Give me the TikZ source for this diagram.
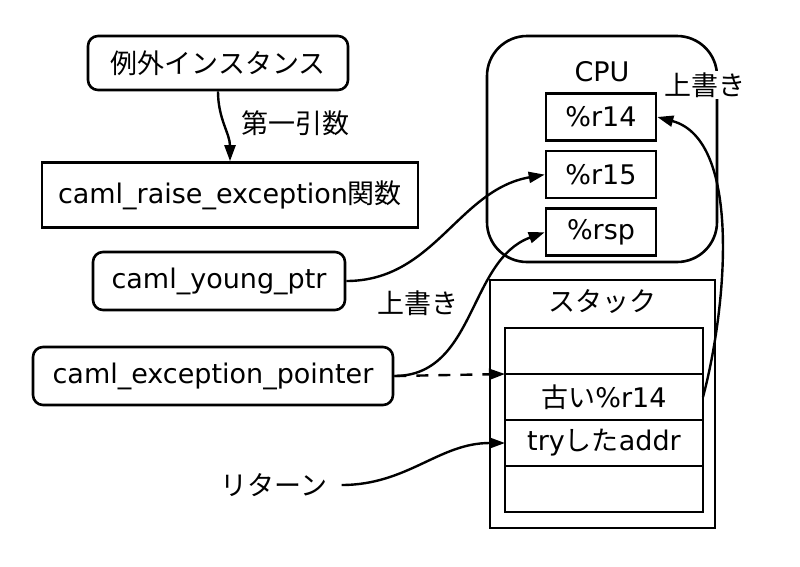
\documentclass[tikz,border=0pt]{standalone}
\usepackage{fontspec}
\setmainfont{DejaVu Sans}
\newfontfamily\jp{Noto Sans CJK JP}
\usetikzlibrary{positioning,arrows.meta}
\tikzset{
  rbox/.style={draw, line width=2.6pt, rounded corners=10pt, inner sep=0pt},
  sbox/.style={draw, line width=2.6pt, inner sep=0pt},
  reg/.style={sbox, minimum width=110pt, minimum height=47pt},
  slot/.style={sbox, minimum width=198pt, minimum height=46pt, outer sep=0pt},
  link/.style={line width=2.4pt, -{Triangle[length=16pt,width=11pt]}},
}
\begin{document}
\begin{tikzpicture}[x=1pt, y=-1pt, font=\fontsize{27}{32}\selectfont]
  \useasboundingbox[fill=white] (0,0) rectangle (800,566);

  % left side
  \node[rbox, minimum width=260pt, minimum height=54pt] (inst) at (218,63) {\jp 例外インスタンス};
  \node (arg) at (295,123) {\jp 第一引数};
  \node[sbox, minimum width=376pt, minimum height=65pt] (raise) at (230,195) {caml\_raise\_exception{\jp 関数}};
  \node[rbox, minimum width=252pt, minimum height=58pt] (young) at (219,281) {caml\_young\_ptr};
  \node (over2) at (418,303) {\jp 上書き};
  \node[rbox, minimum width=360pt, minimum height=58pt] (expt) at (213,376) {caml\_exception\_pointer};
  \node[inner xsep=14pt] (ret) at (274,485) {\jp リターン};

  % CPU
  \node[draw, line width=2.6pt, rounded corners=40pt, minimum width=230pt, minimum height=226pt] (cpu) at (602,149) {};
  \node (cpulbl) at (602,72) {CPU};
  \node[reg] (r14) at (601,117) {\%r14};
  \node[reg, below=8pt of r14] (r15) {\%r15};
  \node[reg, below=8pt of r15] (rsp) {\%rsp};
  \node[fill=white, inner sep=2pt] (over1) at (705,85) {\jp 上書き};

  % stack
  \node[sbox, minimum width=225pt, minimum height=248pt] (stack) at (602.5,404) {};
  \node (stacklbl) at (602,302) {\jp スタック};
  \node[slot] (row1) at (604,351) {};
  \node[slot, below=0pt of row1] (row2) {{\jp 古い}\%r14};
  \node[slot, below=0pt of row2] (row3) {try{\jp した}addr};
  \node[slot, below=0pt of row3] (row4) {};

  \path (inst.south) edge[link, out=-90, in=90] (raise.north)
    (young.east) edge[link, out=0, in=190] (r15.west)
    (expt.east) edge[link, out=0, in=200] (rsp.west)
    (expt.east) edge[link, dash pattern=on 12pt off 10pt] (row2.north west)
    (row2.east) edge[link, out=75, in=-15, looseness=0.8] (r14.east)
    (ret.east) edge[link, out=0, in=180] (row3.west);
\end{tikzpicture}
\end{document}
